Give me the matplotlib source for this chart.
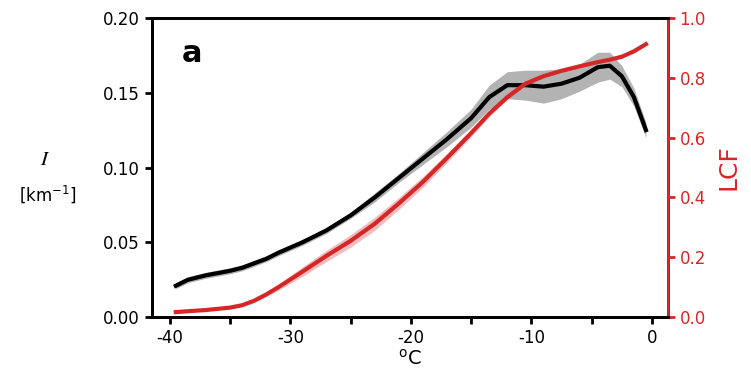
import numpy as np
import matplotlib.pyplot as plt
from matplotlib.ticker import MultipleLocator

# temperature bins (deg C)
temp = [-39.5, -38.5, -37, -35, -34, -33, -32, -31, -29, -27, -25, -23, -21, -19, -17, -15,
        -13.5, -12, -10.5, -9, -7.5, -6, -4.5, -3.5, -2.5, -1.5, -0.5]

# I [km^-1] and its spread
ice = [0.021, 0.025, 0.028, 0.031, 0.033, 0.036, 0.039, 0.043, 0.050, 0.058, 0.068, 0.080, 0.093,
       0.106, 0.119, 0.133, 0.147, 0.155, 0.155, 0.154, 0.156, 0.160, 0.167, 0.168,
       0.161, 0.147, 0.125]
ice_sd = [0.002, 0.002, 0.002, 0.002, 0.002, 0.002, 0.002, 0.002, 0.002, 0.002, 0.002, 0.003, 0.003,
          0.004, 0.005, 0.006, 0.008, 0.009, 0.010, 0.011, 0.010, 0.009, 0.010, 0.009,
          0.007, 0.006, 0.005]

# liquid cloud fraction and its spread
lcf = [0.017, 0.020, 0.024, 0.032, 0.040, 0.055, 0.076, 0.100, 0.152, 0.205, 0.255, 0.312, 0.380,
       0.452, 0.532, 0.615, 0.680, 0.735, 0.780, 0.805, 0.823, 0.838, 0.852, 0.860,
       0.870, 0.888, 0.912]
lcf_sd = [0.001, 0.001, 0.002, 0.003, 0.004, 0.005, 0.007, 0.010, 0.016, 0.019, 0.021, 0.022, 0.020,
          0.018, 0.015, 0.012, 0.010, 0.008, 0.006, 0.005, 0.004, 0.003, 0.003, 0.003,
          0.003, 0.003, 0.003]

RED = "#d62728"

plt.rcParams['font.size'] = 12
fig, ax = plt.subplots(figsize=(7.51, 3.71), dpi=100)
fig.subplots_adjust(left=0.202, right=0.889, top=0.952, bottom=0.145)
ax2 = ax.twinx()

t = np.array(temp)
i_ = np.array(ice); isd = np.array(ice_sd)
l_ = np.array(lcf); lsd = np.array(lcf_sd)

ax.fill_between(t, i_ - isd, i_ + isd, color="0.7", lw=0, zorder=1)
ax.plot(t, i_, color="black", lw=3, zorder=3)
ax2.fill_between(t, l_ - lsd, l_ + lsd, color=RED, alpha=0.3, lw=0, zorder=1)
ax2.plot(t, l_, color=RED, lw=3, zorder=2)

ax.set_xlim(-41.5, 1.3)
ax.set_ylim(0, 0.2)
ax2.set_ylim(0, 1.0)
ax.xaxis.set_minor_locator(MultipleLocator(5))
ax.set_xticks([-40, -30, -20, -10, 0])
ax.set_xticklabels(["-40", "-30", "-20", "-10", "0"])
ax.set_yticks([0, 0.05, 0.10, 0.15, 0.20])
ax.set_yticklabels(["0.00", "0.05", "0.10", "0.15", "0.20"])
ax2.set_yticks([0, 0.2, 0.4, 0.6, 0.8, 1.0])
ax2.set_yticklabels(["0.0", "0.2", "0.4", "0.6", "0.8", "1.0"])

for s in ax.spines.values():
    s.set_linewidth(2)
for s in ax2.spines.values():
    s.set_linewidth(2)
ax2.spines['right'].set_color(RED)
ax.tick_params(which='both', width=2, length=5)
ax2.tick_params(axis='y', width=2, length=5, colors=RED)

ax.set_xlabel("$\\mathrm{^o}$C", fontsize=14, labelpad=1)
ax2.set_ylabel("LCF", color=RED, fontsize=18, labelpad=8)
fig.text(0.06, 0.555, "$I$", fontsize=15, ha="center", math_fontfamily="stix")
fig.text(0.064, 0.46, "[km$^{-1}$]", fontsize=12, ha="center")
ax.text(0.058, 0.93, "a", transform=ax.transAxes, fontsize=22, fontweight="bold", va="top")

fig.savefig("out.png", dpi=100)
